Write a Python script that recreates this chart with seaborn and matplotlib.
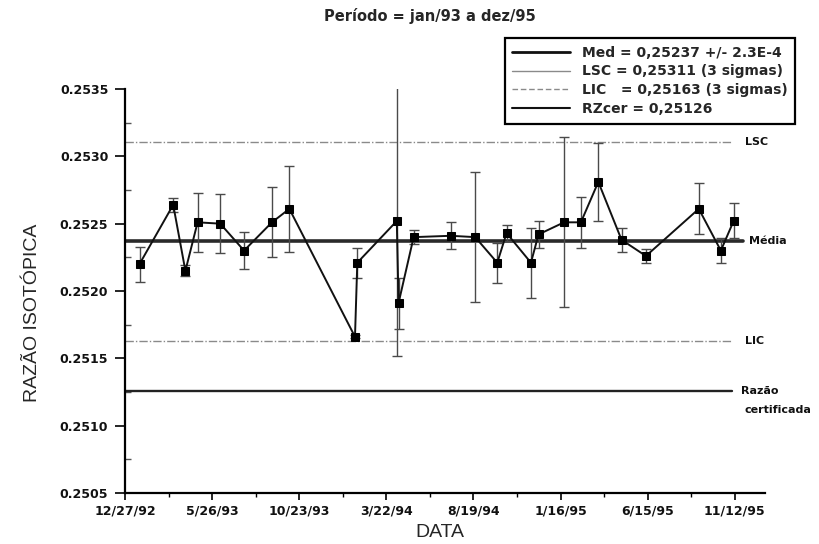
import pandas as pd
import matplotlib
matplotlib.use("Agg")
import matplotlib.pyplot as plt
import matplotlib.dates as mdates
import matplotlib.transforms as mtransforms
from matplotlib.lines import Line2D
from matplotlib.ticker import FixedLocator, FixedFormatter, FormatStrFormatter
import seaborn as sns

# ---------------- data ----------------
dates = ["1993-01-21", "1993-03-20", "1993-04-10", "1993-05-01", "1993-06-09",
         "1993-07-20", "1993-09-06", "1993-10-06", "1994-01-27", "1994-01-31",
         "1994-04-09", "1994-04-12", "1994-05-08", "1994-07-11", "1994-08-22",
         "1994-09-29", "1994-10-15", "1994-11-26", "1994-12-09", "1995-01-22",
         "1995-02-20", "1995-03-22", "1995-05-01", "1995-06-12", "1995-09-11",
         "1995-10-19", "1995-11-10"]
ratio = [0.25220, 0.25264, 0.25215, 0.25251, 0.25250, 0.25230, 0.25251, 0.25261,
         0.25166, 0.25221, 0.25252, 0.25191, 0.25240, 0.25241, 0.25240, 0.25221,
         0.25243, 0.25221, 0.25242, 0.25251, 0.25251, 0.25281, 0.25238, 0.25226,
         0.25261, 0.25230, 0.25252]
err = [0.00013, 0.00005, 0.00004, 0.00022, 0.00022, 0.00014, 0.00026, 0.00032,
       0.00001, 0.00011, 0.00100, 0.00019, 0.00005, 0.00010, 0.00048, 0.00015,
       0.00006, 0.00026, 0.00010, 0.00063, 0.00019, 0.00029, 0.00009, 0.00005,
       0.00019, 0.00009, 0.00013]

med_val = 0.25237
lsc_val = 0.25311
lic_val = 0.25163
rzcer_val = 0.25126

legend_labels = ["Med = 0,25237 +/- 2.3E-4",
                 "LSC = 0,25311 (3 sigmas)",
                 "LIC   = 0,25163 (3 sigmas)",
                 "RZcer = 0,25126"]

x_tick_labels = ["12/27/92", "5/26/93", "10/23/93", "3/22/94",
                 "8/19/94", "1/16/95", "6/15/95", "11/12/95"]
x_limits = ["12/27/92", "1/3/96"]
y_ticks = [0.2505, 0.2510, 0.2515, 0.2520, 0.2525, 0.2530, 0.2535]

title = "Período = jan/93 a dez/95"
xlabel = "DATA"
ylabel = "RAZÃO ISOTÓPICA"

# ---------------- figure ----------------
sns.set_style("ticks")
plt.rcParams["font.family"] = ["DejaVu Sans"]

df = pd.DataFrame({"date": pd.to_datetime(dates), "ratio": ratio, "err": err})

fig = plt.figure(figsize=(8.2, 5.44), dpi=100)
fig.patch.set_facecolor("white")
ax = fig.add_axes([125 / 820, 1 - 493 / 544, 640 / 820, 404 / 544])
ax.set_facecolor("white")

# reference lines
ax.axhline(med_val, xmin=0, xmax=0.966, color="#2a2a2a", lw=2.6, zorder=1)
ax.axhline(lsc_val, xmin=0, xmax=0.948, color="#8a8a8a", lw=1.0,
           ls=(0, (6, 1.5, 1, 1.5)), zorder=1)
ax.axhline(lic_val, xmin=0, xmax=0.948, color="#8a8a8a", lw=1.0,
           ls=(0, (6, 1.5, 1, 1.5)), zorder=1)
ax.axhline(rzcer_val, xmin=0, xmax=0.948, color="#222222", lw=1.7, zorder=1)

# error bars
ax.errorbar(df["date"], df["ratio"], yerr=df["err"], fmt="none",
            ecolor="#4a4a4a", elinewidth=1.0, capsize=3.5, capthick=1.0, zorder=2)

# data line + markers
sns.lineplot(data=df, x="date", y="ratio", ax=ax, color="#111111", lw=1.4,
             marker="s", markersize=6, markeredgecolor="black",
             markerfacecolor="black", estimator=None, sort=False, zorder=3)

# axes limits and ticks
xl = pd.to_datetime(x_limits, format="%m/%d/%y")
ax.set_xlim(xl[0], xl[1])
ax.set_ylim(y_ticks[0], y_ticks[-1])

xt = pd.to_datetime(x_tick_labels, format="%m/%d/%y")
xt_num = mdates.date2num(xt)
ax.xaxis.set_major_locator(FixedLocator(xt_num))
ax.xaxis.set_major_formatter(FixedFormatter(x_tick_labels))
minor_x = [v + 75 for v in xt_num]
ax.xaxis.set_minor_locator(FixedLocator(minor_x))

ax.yaxis.set_major_locator(FixedLocator(y_ticks))
ax.yaxis.set_major_formatter(FormatStrFormatter("%.4f"))
minor_y = [v + 0.00025 for v in y_ticks[:-1]]
ax.yaxis.set_minor_locator(FixedLocator(minor_y))

for lab in ax.get_xticklabels() + ax.get_yticklabels():
    lab.set_fontsize(9)
    lab.set_fontweight("bold")
    lab.set_color("#111111")

ax.tick_params(axis="x", which="major", direction="out", length=5,
               width=1.2, color="black", pad=3)
ax.tick_params(axis="y", which="major", direction="out", length=7,
               width=1.2, color="black", pad=5)
ax.tick_params(axis="x", which="minor", direction="out", length=3,
               width=1.0, color="black")
ax.tick_params(axis="y", which="minor", direction="in", length=4,
               width=1.0, color="#555555")

for s in ["top", "right"]:
    ax.spines[s].set_visible(False)
for s in ["left", "bottom"]:
    ax.spines[s].set_linewidth(1.6)
    ax.spines[s].set_color("black")

ax.set_xlabel(xlabel, fontsize=14, family="Liberation Sans")
ax.set_ylabel(ylabel, fontsize=14, family="Liberation Sans")
ax.xaxis.set_label_coords((440 - 125) / 640, (493 - 524) / 404)
ax.yaxis.set_label_coords((41 - 125) / 640, (493 - 313) / 404)

fig.text(430 / 820, 1 - 16 / 544, title, ha="center", va="center",
         fontsize=10.5, fontweight="bold")

# right-side labels
trans = mtransforms.blended_transform_factory(ax.transAxes, ax.transData)
lab_kw = dict(transform=trans, ha="left", va="center", fontsize=8,
              fontweight="bold", color="#111111")
ax.text(0.968, lsc_val, "LSC", **lab_kw)
ax.text(0.975, med_val, "Média", **lab_kw)
ax.text(0.968, lic_val, "LIC", **lab_kw)
ax.text(0.962, rzcer_val, "Razão", **lab_kw)
ax.text(0.968, rzcer_val - 0.00014, "certificada", **lab_kw)

# legend
handles = [Line2D([], [], color="#111111", lw=2.0),
           Line2D([], [], color="#8a8a8a", lw=1.0),
           Line2D([], [], color="#8a8a8a", lw=1.0, ls=(0, (4, 2))),
           Line2D([], [], color="#111111", lw=1.5)]
leg = ax.legend(handles, legend_labels, loc="upper right",
                bbox_to_anchor=(795 / 820, 1 - 38 / 544),
                bbox_transform=fig.transFigure, frameon=True, fancybox=False,
                edgecolor="black", framealpha=1, borderaxespad=0,
                handlelength=4.2, handletextpad=0.8, labelspacing=0.35,
                borderpad=0.55, prop={"size": 10, "weight": "bold"})
leg.get_frame().set_linewidth(1.6)
leg.set_zorder(5)

fig.savefig("out.png", dpi=100, facecolor="white")
